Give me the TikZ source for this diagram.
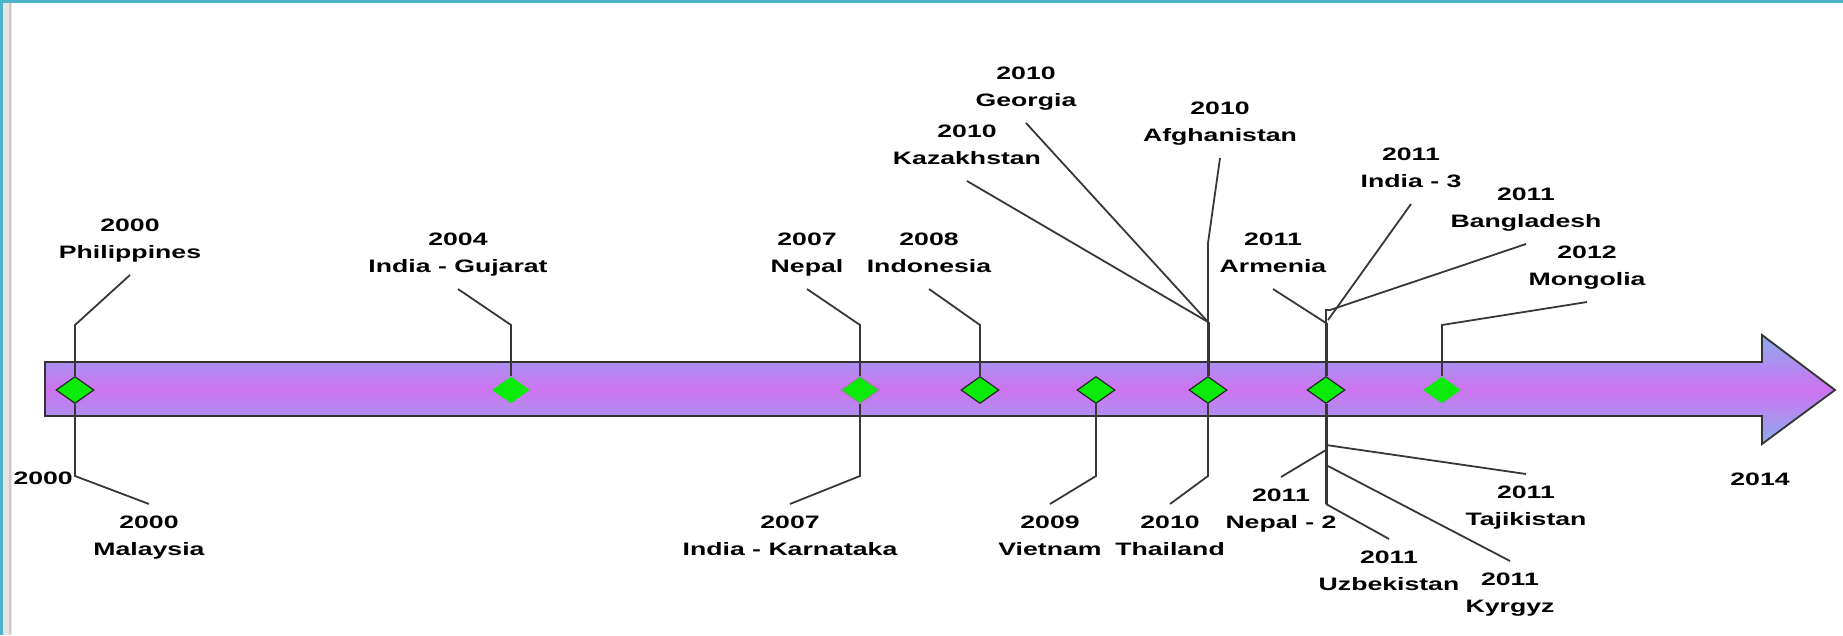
\documentclass[tikz,border=0pt]{standalone}
\usepackage{fontspec}
\usepackage{tikz}
\usetikzlibrary{positioning,shapes.geometric}
\newfontfamily\tlfont{Liberation Sans}[FakeStretch=1.48]
\definecolor{framecyan}{RGB}{80,180,200}
\definecolor{barmid}{RGB}{205,115,240}
\definecolor{baredge}{RGB}{140,172,240}
\definecolor{markgreen}{RGB}{10,235,10}
\definecolor{leadgray}{RGB}{55,55,55}
\tikzset{
  lab/.style={font=\tlfont\bfseries\fontsize{18}{27}\selectfont, align=center, inner sep=0pt,
    execute at begin node=\strut, execute at end node=\strut},
  leader/.style={draw=leadgray, line width=1.8pt},
  stem/.style={draw=leadgray, line width=3pt},
  diam/.style={diamond, fill=markgreen, draw=black!85, line width=1.2pt, inner sep=0pt,
    minimum width=38pt, minimum height=27pt},
  diamgray/.style={diam, draw=black!45},
  diamlite/.style={diam, draw=none}
}

\begin{document}
\begin{tikzpicture}[x=1pt,y=-1pt]
\useasboundingbox (0,0) rectangle (1843,635);
% frame
\fill[black!10] (3,0) rectangle (12,635);
\fill[black!20] (9,0) rectangle (11,635);
\fill[framecyan] (0,0) rectangle (3,635);
\fill[framecyan] (0,0) rectangle (1843,2.5);
% time bar
\draw[black!80, line width=1.8pt, top color=baredge, bottom color=baredge, middle color=barmid]
  (45,362) -- (1762,362) -- (1762,335) -- (1835,390) -- (1762,444) -- (1762,416) -- (45,416) -- cycle;
% events on the bar
\foreach \px/\nm/\st in {75/d2000/diam, 511/d2004/diamlite, 860/d2007/diamgray, 980/d2008/diam,
  1096/d2009/diam, 1208/d2010/diam, 1326/d2011/diam, 1442/d2012/diamlite}
  \node[\st] (\nm) at (\px,390) {};
% 2000
\coordinate (ePhil) at (130,275);
\coordinate (bMal) at (75,476);
\coordinate (eMal) at (149,504);
\node[lab, above=8pt of ePhil] (lPhil) {2000\\Philippines};
\node[lab, below=12pt of eMal] (lMal) {2000\\Malaysia};
\node[lab, left=2pt of bMal, yshift=-3pt] (l2000) {2000};
\draw[leader] (d2000) -- ++(0,-65) -- (ePhil);
\draw[leader] (d2000) -- (bMal) -- (eMal);
% 2004
\coordinate (eGuj) at (458,289);
\node[lab, above=8pt of eGuj] (lGuj) {2004\\India - Gujarat};
\draw[leader] (d2004) -- ++(0,-65) -- (eGuj);
% 2007
\coordinate (eNep) at (807,289);
\coordinate (eKar) at (790,504);
\node[lab, above=8pt of eNep] (lNep) {2007\\Nepal};
\node[lab, below=12pt of eKar] (lKar) {2007\\India - Karnataka};
\draw[leader] (d2007) -- ++(0,-65) -- (eNep);
\draw[leader] (d2007) -- ++(0,86) -- (eKar);
% 2008
\coordinate (eIndo) at (929,289);
\node[lab, above=8pt of eIndo] (lIndo) {2008\\Indonesia};
\draw[leader] (d2008) -- ++(0,-65) -- (eIndo);
% 2009
\coordinate (eViet) at (1050,504);
\node[lab, below=12pt of eViet] (lViet) {2009\\Vietnam};
\draw[leader] (d2009) -- ++(0,86) -- (eViet);
% 2010
\coordinate (s2010) at (1208,322);
\coordinate (eKaz) at (967,181);
\coordinate (eGeo) at (1026,123);
\coordinate (eAfg) at (1220,158);
\coordinate (eThai) at (1170,504);
\node[lab, above=8pt of eKaz] (lKaz) {2010\\Kazakhstan};
\node[lab, above=8pt of eGeo] (lGeo) {2010\\Georgia};
\node[lab, above=8pt of eAfg] (lAfg) {2010\\Afghanistan};
\node[lab, below=12pt of eThai] (lThai) {2010\\Thailand};
\draw[stem] (d2010) -- (s2010);
\draw[leader] (s2010) -- (eKaz);
\draw[leader] (s2010) -- (eGeo);
\draw[leader] (s2010) -- ++(0,-79) -- (eAfg);
\draw[leader] (d2010) -- ++(0,86) -- (eThai);
% 2011
\coordinate (s2011) at (1326,323);
\coordinate (u2011) at (1326,504);
\coordinate (eArm) at (1273,289);
\coordinate (eInd3) at (1411,204);
\coordinate (eBang) at (1526,244);
\coordinate (eNep2) at (1281,477);
\coordinate (eTaj) at (1526,474);
\coordinate (eUzb) at (1389,539);
\coordinate (eKyr) at (1510,561);
\node[lab, above=8pt of eArm] (lArm) {2011\\Armenia};
\node[lab, above=8pt of eInd3] (lInd3) {2011\\India - 3};
\node[lab, above=8pt of eBang] (lBang) {2011\\Bangladesh};
\node[lab, below=12pt of eNep2] (lNep2) {2011\\Nepal - 2};
\node[lab, below=12pt of eTaj] (lTaj) {2011\\Tajikistan};
\node[lab, below=12pt of eUzb] (lUzb) {2011\\Uzbekistan};
\node[lab, below=12pt of eKyr] (lKyr) {2011\\Kyrgyz};
\draw[stem] (d2011) -- (s2011);
\draw[stem] (d2011) -- (u2011);
\draw[leader] (s2011) -- (eArm);
\draw[leader] (s2011) -- ++(0,-13) -- ++(4,0) -- (eBang);
\draw[leader] (s2011) ++(2,-3) -- (eInd3);
\draw[leader] (1326,450) -- (eNep2);
\draw[leader] (1326,445) -- (eTaj);
\draw[leader] (1328,466) -- (eKyr);
\draw[leader] (u2011) -- (eUzb);
% 2012
\coordinate (eMon) at (1587,302);
\node[lab, above=8pt of eMon] (lMon) {2012\\Mongolia};
\draw[leader] (d2012) -- ++(0,-65) -- (eMon);
% end of the bar
\node[lab] (l2014) at (1760,480) {2014};
\end{tikzpicture}
\end{document}
